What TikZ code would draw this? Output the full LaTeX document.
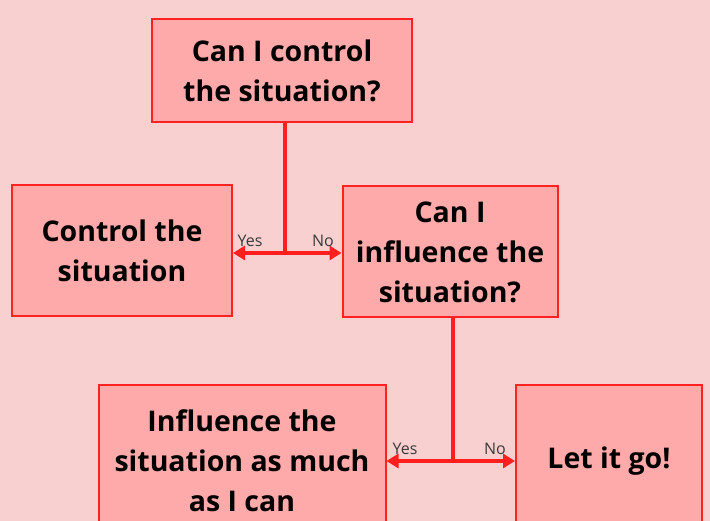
\documentclass[tikz,border=0pt]{standalone}
\usepackage{fontspec}
\setmainfont{Open Sans}
\usepackage{tikz}
\usetikzlibrary{arrows.meta,positioning,calc}
\definecolor{bgpink}{HTML}{F8D0D0}
\definecolor{boxfill}{HTML}{FFAAAA}
\definecolor{boxline}{HTML}{FF2222}
\definecolor{linkred}{HTML}{FF1F1F}
\definecolor{labelgray}{HTML}{3A3A3A}
\tikzset{
  qbox/.style={draw=boxline, fill=boxfill, line width=2pt, align=center,
    inner sep=0pt, font=\fontsize{28.5}{40}\selectfont\bfseries},
  link/.style={-{Triangle[length=12pt,width=14pt]}, line width=3.4pt, draw=linkred},
  plain/.style={line width=3.4pt, draw=linkred},
  yn/.style={font=\fontsize{16}{18}\selectfont, text=labelgray, inner sep=0pt}
}

\begin{document}
\begin{tikzpicture}[x=1pt,y=-1pt]
        \fill[bgpink] (0,0) rectangle (710,521);
        \useasboundingbox (0,0) rectangle (710,521);
        \clip (0,0) rectangle (710,521);
        \node[qbox, minimum width=260pt, minimum height=103pt] (ctrlq) at (282,71) {Can I control\\the situation?};
        \node[qbox, minimum width=220pt, minimum height=131pt] (ctrl) at (122,251) {Control the\\situation};
        \node[qbox, minimum width=215pt, minimum height=131pt] (inflq) at (450,252) {Can I\\influence the\\situation?};
        \node[qbox, minimum width=287pt, minimum height=152pt] (infl) at (242,461) {Influence the\\situation as much\\as I can};
        \node[qbox, minimum width=186pt, minimum height=152pt] (letgo) at (609,461) {Let it go!};
        % first question
        \coordinate (split1) at (ctrlq.south -| 285,0);
        \coordinate (join1) at (285,253);
        \draw[plain] (split1) -- (join1);
        \draw[link] (join1) -- (join1 -| ctrl.east);
        \draw[link] (join1) -- (join1 -| inflq.west);
        \node[yn] (yes1) at (250,241) {Yes};
        \node[yn] (no1) at (323,241) {No};
        % second question
        \coordinate (split2) at (inflq.south -| 453,0);
        \coordinate (join2) at (453,461);
        \draw[plain] (split2) -- (join2);
        \draw[link] (join2) -- (join2 -| infl.east);
        \draw[link] (join2) -- (join2 -| letgo.west);
        \node[yn] (yes2) at (405,449) {Yes};
        \node[yn] (no2) at (495,449) {No};
      \end{tikzpicture}
\end{document}
